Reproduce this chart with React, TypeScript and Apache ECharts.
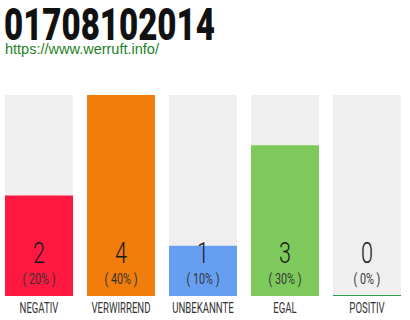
import React, { useEffect, useRef } from "react";
import * as echarts from "echarts";

const titleText = "01708102014";
const subtitleText = "https://www.werruft.info/";
const categories = ["NEGATIV", "VERWIRREND", "UNBEKANNTE", "EGAL", "POSITIV"];
const values = [2, 4, 1, 3, 0];
const barColors = ["#ff1940", "#f17d0c", "#669ef0", "#7dc95c", "#2aa04a"];
const maxValue = 4;

// The canvas is shifted 2px left so that five 82px-wide category slots
// line up with the page edges.
const SHIFT = 2;

export default function App() {
  const ref = useRef<HTMLDivElement>(null);

  useEffect(() => {
    if (!ref.current) return;
    const chart = echarts.init(ref.current, undefined, { renderer: "svg" });
    const total = values.reduce((a, b) => a + b, 0);
    const labelFont = "Roboto, 'Liberation Sans', sans-serif";

    chart.setOption({
      animation: false,
      backgroundColor: "#ffffff",
      graphic: [
        {
          type: "text",
          left: 4 + SHIFT,
          top: 2,
          scaleX: 0.735,
          style: {
            text: titleText,
            fill: "#111111",
            fontSize: 45,
            fontWeight: 900,
            fontFamily: labelFont,
          },
        },
        {
          type: "text",
          left: 5 + SHIFT,
          top: 41,
          style: {
            text: subtitleText,
            fill: "#267f26",
            fontSize: 14.5,
            fontFamily: "'Liberation Sans', Arial, sans-serif",
          },
        },
      ],
      grid: { left: 0, right: 2, top: 95, bottom: 24 },
      xAxis: {
        type: "category",
        data: categories,
        show: false,
      },
      yAxis: { type: "value", min: 0, max: maxValue, show: false },
      series: [
        {
          type: "bar",
          barWidth: 68,
          barMinHeight: 1,
          showBackground: true,
          backgroundStyle: { color: "#efefef" },
          data: values.map((v, i) => ({
            value: v,
            itemStyle: { color: barColors[i] },
          })),
        },
        {
          type: "custom",
          clip: false,
          z: 10,
          data: values.map((v, i) => [i, v]),
          renderItem: (params: any, api: any) => {
            const idx = api.value(0);
            const val = api.value(1);
            const base = api.coord([idx, 0]);
            const pct = total ? Math.round((val / total) * 100) : 0;
            return {
              type: "group",
              children: [
                {
                  type: "text",
                  x: base[0],
                  y: base[1] - 43,
                  scaleX: 0.72,
                  style: {
                    text: String(val),
                    fill: "#1a1a1a",
                    fontSize: 30,
                    fontWeight: 300,
                    fontFamily: labelFont,
                    align: "center",
                    verticalAlign: "middle",
                  },
                },
                {
                  type: "text",
                  x: base[0],
                  y: base[1] - 17,
                  scaleX: 0.72,
                  style: {
                    text: `( ${pct}% )`,
                    fill: "#333333",
                    fontSize: 15,
                    fontWeight: 400,
                    fontFamily: labelFont,
                    align: "center",
                    verticalAlign: "middle",
                  },
                },
                {
                  type: "text",
                  x: base[0],
                  y: base[1] + 12,
                  scaleX: 0.62,
                  style: {
                    text: categories[idx],
                    fill: "#333333",
                    fontSize: 15.5,
                    fontWeight: 400,
                    fontFamily: labelFont,
                    align: "center",
                    verticalAlign: "middle",
                  },
                },
              ],
            };
          },
        },
      ],
    });

    return () => chart.dispose();
  }, []);

  return (
    <div
      ref={ref}
      style={{
        position: "fixed",
        left: -SHIFT,
        top: 0,
        width: 410 + SHIFT,
        height: 320,
      }}
    />
  );
}
